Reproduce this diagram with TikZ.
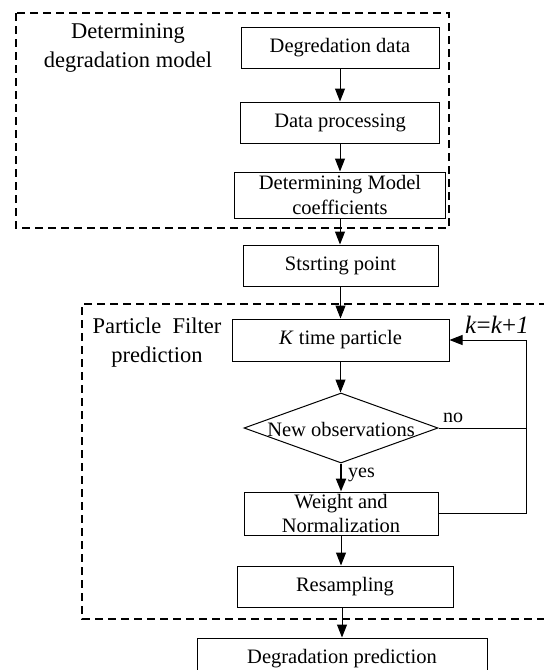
\documentclass[tikz,border=0pt]{standalone}
\usepackage{fontspec}
\setmainfont{Liberation Serif}
\usetikzlibrary{arrows.meta,shapes.geometric}
\begin{document}
\begin{tikzpicture}[x=1pt,y=-1pt,
  box/.style={draw,line width=1pt,minimum height=41pt,inner sep=0pt,align=center,
    font=\fontsize{20.5}{25}\selectfont},
  arr/.style={-{Triangle[width=10pt,length=13pt]},line width=1pt},
  region/.style={line width=1.1pt,dash pattern=on 8pt off 5pt},
  grouplabel/.style={align=center,inner sep=0pt,font=\fontsize{22.5}{29}\selectfont},
  small/.style={inner sep=0pt,font=\fontsize{20}{24}\selectfont}]
\useasboundingbox (0,0) rectangle (544,670);

% dashed regions
\draw[region] (16,13) rectangle (449,228);
\draw[region] (560,304) -- (82,304) -- (82,619) -- (560,619);

% region titles
\node[grouplabel] (titleA) at (128,47.5) {Determining\\degradation model};
\node[grouplabel] (titleB) at (157,343) {Particle\ \ Filter\\prediction};

% process chain
\node[box,minimum width=198pt] (dd) at (340,47.5) {Degredation data};
\node[box,minimum width=199pt] (dp) at (340,122.5) {Data processing};
\node[box,minimum width=211pt,minimum height=46pt] (dm) at (340,195) {Determining Model\\coefficients};
\node[box,minimum width=195pt] (sp) at (340.5,265.5) {Stsrting point};
\node[box,minimum width=217pt,minimum height=42pt] (kt) at (340.5,340) {\textit{K} time particle};
\node[diamond,draw,line width=1pt,minimum width=194pt,minimum height=70pt,inner sep=0pt] (obs) at (341,428) {};
\node[small,font=\fontsize{20.5}{25}\selectfont] (obstext) at (341,429) {New observations};
\node[box,minimum width=194pt,minimum height=43pt,font=\fontsize{20.5}{24}\selectfont] (wn) at (341,513.5) {Weight and\\Normalization};
\node[box,minimum width=216pt] (rs) at (345,586.5) {Resampling};
\node[box,minimum width=290pt] (pr) at (342,658.5) {Degradation prediction};

% connectors
\draw[arr] (dd.south) -- (dd.south |- dp.north);
\draw[arr] (dp.south) -- (dp.south |- dm.north);
\draw[arr] (dm.south) -- (dm.south |- sp.north);
\draw[arr] (sp.south) -- (sp.south |- kt.north);
\draw[arr] (kt.south) -- (kt.south |- obs.north);
\draw[arr,line width=2.2pt] (obs.south) -- (obs.south |- wn.north);
\draw[arr] (wn.south) -- (wn.south |- rs.north);
\draw[arr] (rs.south -| pr.north) -- (pr.north);

% feedback loop
\coordinate (fb) at (526,0);
\draw[line width=1pt] (obs.east) -- (obs.east -| fb);
\draw[arr] (wn.east) -| (fb |- kt.east) -- (kt.east);

% loop labels
\node[small] (nolab) at (453,418) {no};
\node[small,anchor=west] (yeslab) at (348,475) {yes};
\node[inner sep=0pt,anchor=base,font=\fontsize{25}{30}\selectfont] (klab) at (497,333) {\textit{k}=\textit{k}+\textit{1}};
\end{tikzpicture}
\end{document}
